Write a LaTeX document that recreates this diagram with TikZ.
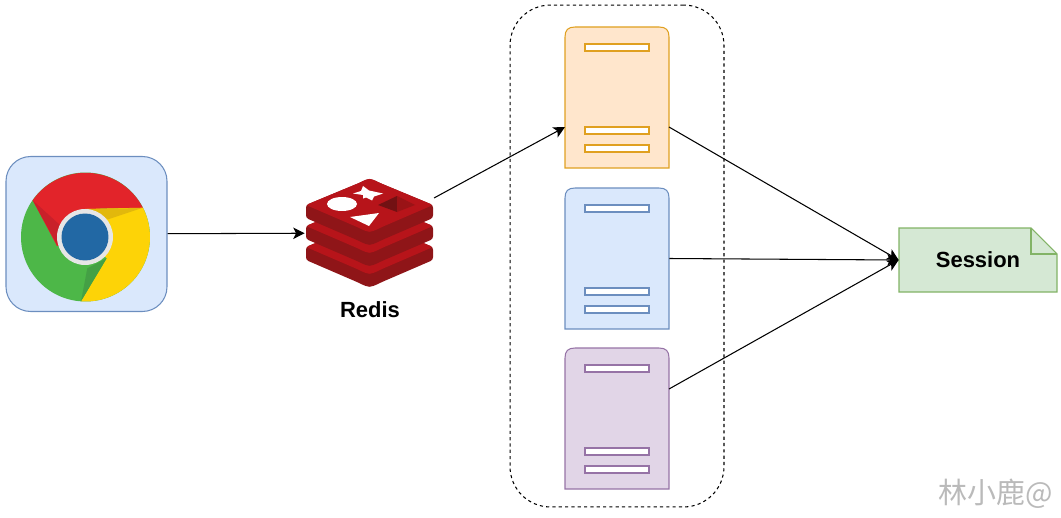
\documentclass[tikz,border=0pt]{standalone}
\usepackage{fontspec}
\setmainfont{Liberation Sans}
\newfontfamily\cjk{Noto Sans CJK SC}
\usetikzlibrary{arrows.meta, positioning, calc}

\definecolor{orangefill}{HTML}{FFE6CC}
\definecolor{orangeline}{HTML}{E0A020}
\definecolor{bluefill}{HTML}{DAE8FC}
\definecolor{blueline}{HTML}{6C8EBF}
\definecolor{purplefill}{HTML}{E1D5E7}
\definecolor{purpleline}{HTML}{9673A6}
\definecolor{notefill}{HTML}{D5E8D4}
\definecolor{noteline}{HTML}{82B366}
\definecolor{redistop}{HTML}{B7141A}
\definecolor{redisside}{HTML}{8F1518}

\tikzset{
    server/.style={minimum width=2.08cm, minimum height=2.82cm, inner sep=0pt},
    slot/.style={draw, fill=white, minimum width=1.28cm, minimum height=0.14cm, inner sep=0pt, line width=0.6pt},
    link/.style={-{Stealth[length=6.5pt, width=6.5pt, inset=1.6pt]}, line width=0.6pt},
    label/.style={font=\fontsize{12.5}{15}\selectfont\bfseries},
}

\newcommand{\redislayer}[1]{
    \fill[redisside, rounded corners=1.5pt] (306,#1) -- (359,#1-22) .. controls (369.5,#1-27) .. (380,#1-22) -- (433,#1) -- (433,#1+13) -- (382,#1+35) .. controls (369.5,#1+41) .. (357,#1+35) -- (306,#1+13) -- cycle;
    \fill[redistop, rounded corners=1.5pt] (306,#1) -- (359,#1-22) .. controls (369.5,#1-27) .. (380,#1-22) -- (433,#1) -- (382,#1+22) .. controls (369.5,#1+28) .. (357,#1+22) -- cycle;
}

\newcommand{\serverbody}[3]{
    \draw[draw=#2, fill=#3, line width=0.6pt] (565,#1+141) -- (565,#1+10) .. controls (565,#1+3) and (568,#1) .. (575,#1) -- (659,#1) .. controls (666,#1) and (669,#1+3) .. (669,#1+10) -- (669,#1+141) -- cycle;
}

\begin{document}
\begin{tikzpicture}[x=0.02cm, y=-0.02cm]
    \useasboundingbox (0,0) rectangle (1061,517);

    \node[draw=blueline, fill=bluefill, line width=0.6pt, rounded corners=14pt, minimum width=3.22cm, minimum height=3.1cm, inner sep=0pt] (chrome) at (86.5,234) {};
    \fill[fill={rgb,255:red,77;green,183;blue,72}] (85.5,237) circle (1.29cm);
    \fill[fill={rgb,255:red,226;green,36;blue,42}] (32.7,200.3) arc[start angle=145, end angle=27, radius=1.29cm] -- (85,209) -- (85,237) -- (57,246) -- cycle;
    \fill[fill={rgb,255:red,253;green,211;blue,7}] (81,301.3) arc[start angle=266, end angle=387, radius=1.29cm] -- (85,209) -- (85,237) -- (106.7,258.3) -- cycle;
    \fill[fill={rgb,255:red,201;green,32;blue,42}] (32.7,200.3) -- (57.3,245) -- (60,225) -- cycle;
    \fill[fill={rgb,255:red,226;green,184;blue,12}] (142,208) -- (86.7,209) -- (108.3,219.3) -- cycle;
    \fill[fill={rgb,255:red,68;green,160;blue,69}] (81,301.3) -- (106.7,258.3) -- (87.3,268.3) -- cycle;
    \fill[fill={rgb,255:red,230;green,230;blue,230}] (85,237) circle (0.56cm);
    \fill[fill={rgb,255:red,34;green,104;blue,164}] (85,237) circle (0.47cm);

    \redislayer{247}
    \redislayer{226}
    \redislayer{205}
    \fill[white] (342,204) ellipse [x radius=0.3cm, y radius=0.14cm];
    \fill[white] (363,186) -- (369,190.5) -- (383,193.5) -- (374,196.5) -- (372,200.5) -- (366,197.5) -- (363,198.5) -- (363,195) -- (353,193.5) -- (361,191) -- cycle;
    \fill[white] (350,217) -- (379,213) -- (369,226) -- cycle;
    \fill[redisside!80!black] (378,205) -- (397,196) -- (397,212) -- cycle;
    \fill[redisside!90!red] (397,196) -- (415,205) -- (397,212) -- cycle;
    \node[minimum width=2.58cm, minimum height=2.16cm, inner sep=0pt] (redis) at (369.5,233) {};
    \node[label] (redislabel) at (370,310) {Redis};

    \node[draw, dash pattern=on 1.8pt off 1.8pt, rounded corners=23pt, line width=0.6pt, minimum width=4.28cm, minimum height=10.04cm, inner sep=0pt] (group) at (617,256) {};

    \serverbody{27}{orangeline}{orangefill}
    \node[server] (orange) at (617,97.5) {};
    \node[slot, draw=orangeline] (orange1) at (617,47.5) {};
    \node[slot, draw=orangeline] (orange2) at (617,130.5) {};
    \node[slot, draw=orangeline] (orange3) at (617,148.5) {};

    \serverbody{188}{blueline}{bluefill}
    \node[server] (blue) at (617,258.5) {};
    \node[slot, draw=blueline] (blue1) at (617,208.5) {};
    \node[slot, draw=blueline] (blue2) at (617,291.5) {};
    \node[slot, draw=blueline] (blue3) at (617,309.5) {};

    \serverbody{348}{purpleline}{purplefill}
    \node[server] (purple) at (617,418.5) {};
    \node[slot, draw=purpleline] (purple1) at (617,368.5) {};
    \node[slot, draw=purpleline] (purple2) at (617,451.5) {};
    \node[slot, draw=purpleline] (purple3) at (617,469.5) {};

    \draw[draw=noteline, fill=notefill, line width=0.6pt] (899,228) -- (1031,228) -- (1057,254) -- (1057,292) -- (899,292) -- cycle;
    \draw[draw=noteline, line width=0.6pt] (1031,228) -- (1031,254) -- (1057,254);
    \node[label, minimum width=3.16cm, minimum height=1.28cm, inner sep=0pt] (session) at (978,260) {Session};

    \coordinate (redisout) at (434,198);
    \coordinate (orangein) at (565,127);
    \coordinate (orangeout) at (669,127);
    \coordinate (purpleout) at (669,389);

    \draw[link] (chrome) -- (redis);
    \draw[link] (redisout) -- (orangein);
    \draw[link] (orangeout) -- (session.west);
    \draw[link] (blue.east) -- (session.west);
    \draw[link] (purpleout) -- (session.west);

    \node[text=black!27, font=\cjk\fontsize{16.5}{20}\selectfont] (watermark) at (996,494) {林小鹿@};
\end{tikzpicture}
\end{document}
